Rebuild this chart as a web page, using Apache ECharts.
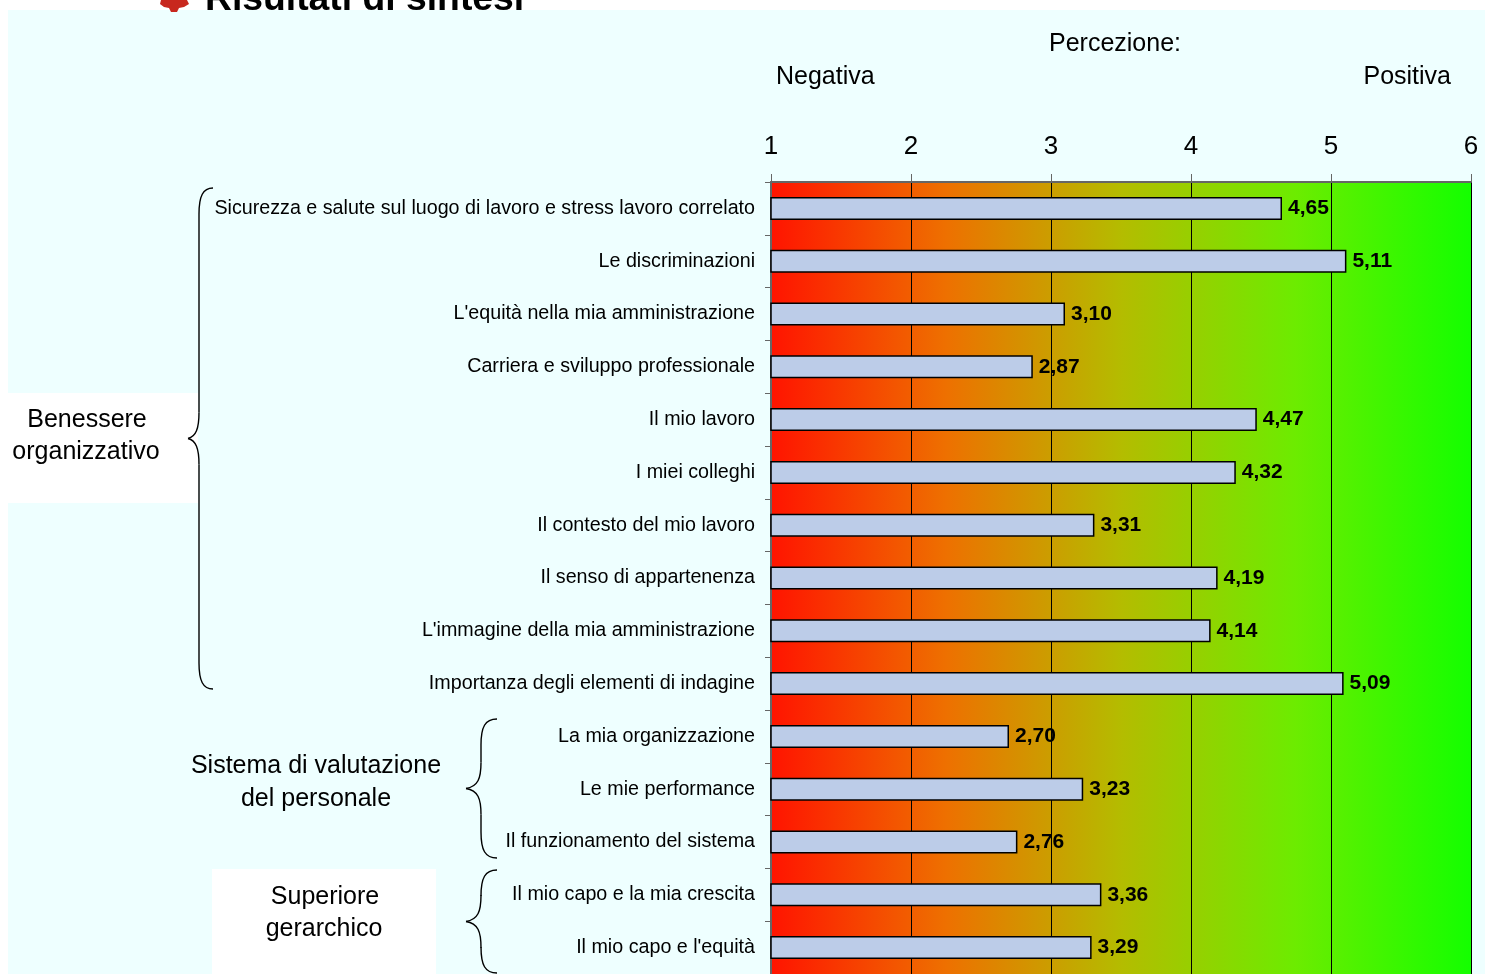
<!DOCTYPE html>
<html>
<head>
<meta charset="utf-8">
<title>Risultati di sintesi</title>
<script src="https://cdn.jsdelivr.net/npm/echarts@6/dist/echarts.min.js"></script>
<style>
html, body { margin: 0; padding: 0; background: #fff; overflow: hidden; }
#container { width: 1485px; height: 974px; }
</style>
</head>
<body>
<div id="container"></div>
<script>
var categories = [
    'Sicurezza e salute sul luogo di lavoro e stress lavoro correlato',
    'Le discriminazioni',
    "L'equità nella mia amministrazione",
    'Carriera e sviluppo professionale',
    'Il mio lavoro',
    'I miei colleghi',
    'Il contesto del mio lavoro',
    'Il senso di appartenenza',
    "L'immagine della mia amministrazione",
    'Importanza degli elementi di indagine',
    'La mia organizzazione',
    'Le mie performance',
    'Il funzionamento del sistema',
    'Il mio capo e la mia crescita',
    "Il mio capo e l'equità"
];
var values = [4.65, 5.11, 3.10, 2.87, 4.47, 4.32, 3.31, 4.19, 4.14, 5.09, 2.70, 3.23, 2.76, 3.36, 3.29];
var axisTicks = [1, 2, 3, 4, 5, 6];

var font = '"Liberation Sans", Arial, sans-serif';
var braceStyle = { fill: null, stroke: '#000', lineWidth: 1.4 };

function curve(x1, y1, cx1, cy1, cx2, cy2, x2, y2) {
    return {
        type: 'bezierCurve',
        z: 5,
        shape: { x1: x1, y1: y1, cpx1: cx1, cpy1: cy1, cpx2: cx2, cpy2: cy2, x2: x2, y2: y2 },
        style: braceStyle
    };
}

function seg(x, y1, y2) {
    return { type: 'line', z: 5, shape: { x1: x, y1: y1, x2: x, y2: y2 }, style: braceStyle };
}

// parentesi graffa aperta verso destra: x = punta, sx = asse verticale, ex = estremi
function brace(x, sx, ex, top, bottom) {
    var mid = (top + bottom) / 2;
    return [
        curve(ex, top, sx + 4, top, sx, top + 8, sx, top + 26),
        seg(sx, top + 26, mid - 26),
        curve(sx, mid - 26, sx, mid - 10, sx - 3, mid - 2, x, mid),
        curve(x, mid, sx - 3, mid + 2, sx, mid + 10, sx, mid + 26),
        seg(sx, mid + 26, bottom - 26),
        curve(sx, bottom - 26, sx, bottom - 8, sx + 4, bottom, ex, bottom)
    ];
}

function txt(x, y, text, size, align, weight) {
    return {
        type: 'text',
        x: x,
        y: y,
        z: 5,
        style: {
            text: text,
            fill: '#000',
            font: (weight || 'normal') + ' ' + size + 'px ' + font,
            textAlign: align || 'center',
            textVerticalAlign: 'middle'
        }
    };
}

var myChart = echarts.init(document.getElementById('container'));
var elements = [
    // sfondo azzurro e riquadri bianchi, sotto al grafico
    { type: 'rect', z: -10, silent: true, shape: { x: 8, y: 10, width: 1477, height: 964 }, style: { fill: '#eeffff' } },
    { type: 'rect', z: -9, silent: true, shape: { x: 8, y: 393, width: 190, height: 110 }, style: { fill: '#fff' } },
    { type: 'rect', z: -9, silent: true, shape: { x: 212, y: 869, width: 224, height: 105 }, style: { fill: '#fff' } },
    // titolo tagliato in alto
    { type: 'polygon', z: 5, shape: { points: [[161, 0], [187, 0], [189, 4], [184, 7], [179, 8], [177, 12], [171, 12], [169, 8], [164, 7], [160, 4]] }, style: { fill: '#c8281e' } },
    txt(205, 0, 'Risultati di sintesi', 37.3, 'left', 'bold'),
    txt(1115, 44, 'Percezione:', 25),
    txt(776, 77, 'Negativa', 25, 'left'),
    txt(1451, 77, 'Positiva', 25, 'right'),
    txt(87, 420, 'Benessere', 25),
    txt(86, 452, 'organizzativo', 25),
    txt(316, 766, 'Sistema di valutazione', 25),
    txt(316, 799, 'del personale', 25),
    txt(325, 897, 'Superiore', 25),
    txt(324, 929, 'gerarchico', 25)
].concat(brace(188, 199, 213, 188, 689), brace(466, 481, 497, 719, 858), brace(466, 481, 497, 870, 973));

var option = {
    animation: false,
    backgroundColor: '#fff',
    grid: {
        left: 771,
        top: 182,
        width: 700,
        height: 793,
        show: true,
        borderWidth: 0,
        backgroundColor: new echarts.graphic.LinearGradient(0, 0, 1, 0, [
            { offset: 0, color: '#ff1400' },
            { offset: 0.25, color: '#ee7000' },
            { offset: 0.5, color: '#b4bc00' },
            { offset: 0.75, color: '#6cec00' },
            { offset: 1, color: '#14ff00' }
        ])
    },
    xAxis: {
        type: 'value',
        position: 'top',
        min: axisTicks[0],
        max: axisTicks[axisTicks.length - 1],
        interval: 1,
        axisLine: { show: true, lineStyle: { color: '#666', width: 2 } },
        axisTick: { show: true, length: 8, lineStyle: { color: '#666', width: 1 } },
        axisLabel: { margin: 22, color: '#000', fontSize: 26, fontFamily: font },
        splitLine: { show: true, lineStyle: { color: '#000', width: 1 } }
    },
    yAxis: {
        type: 'category',
        inverse: true,
        data: categories,
        axisLine: { show: true, lineStyle: { color: '#666', width: 2 } },
        axisTick: { show: true, length: 6, lineStyle: { color: '#666', width: 1 } },
        axisLabel: { margin: 16, color: '#000', fontSize: 19.7, fontFamily: font, padding: [4, 0, 0, 0] }
    },
    series: [{
        type: 'bar',
        data: values,
        barWidth: 23,
        itemStyle: { color: '#bccce8', borderColor: '#000', borderWidth: 1.5 },
        label: {
            show: true,
            position: 'right',
            distance: 6,
            color: '#000',
            fontSize: 21,
            fontWeight: 'bold',
            fontFamily: font,
            formatter: function (p) { return p.value.toFixed(2).replace('.', ','); }
        }
    }],
    graphic: { elements: elements }
};
myChart.setOption(option);
</script>
</body>
</html>
